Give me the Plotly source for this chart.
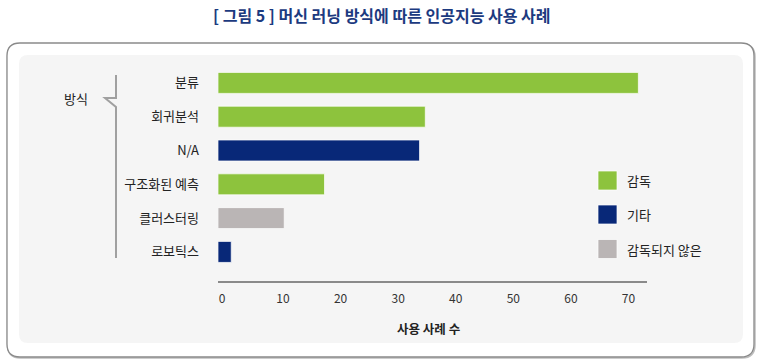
import plotly.graph_objects as go

# ---- data ----
categories = ["분류", "회귀분석", "N/A", "구조화된 예측", "클러스터링", "로보틱스"]
values = [73, 36, 35, 18.5, 11.5, 2.3]
groups = ["감독", "감독", "기타", "감독", "감독되지 않은", "기타"]
group_names = ["감독", "기타", "감독되지 않은"]
group_colors = {"감독": "#8dc33d", "기타": "#082878", "감독되지 않은": "#bab5b5"}
x_ticks = [0, 10, 20, 30, 40, 50, 60, 70]
title_text = "[ 그림 5 ] 머신 러닝 방식에 따른 인공지능 사용 사례"
x_title = "사용 사례 수"
bracket_label = "방식"

W, H = 763, 361
ML, MR, MT, MB = 218, 116, 66, 80
PW, PH = W - ML - MR, H - MT - MB
FONT = "Noto Sans CJK KR, Noto Sans, sans-serif"


def px(x):
    return (x - ML) / PW


def py(y):
    return 1 - (y - MT) / PH


def rounded_rect(x0, y0, x1, y1, r):
    pts = [
        f"M {px(x0 + r)} {py(y0)}",
        f"L {px(x1 - r)} {py(y0)}",
        f"Q {px(x1)} {py(y0)} {px(x1)} {py(y0 + r)}",
        f"L {px(x1)} {py(y1 - r)}",
        f"Q {px(x1)} {py(y1)} {px(x1 - r)} {py(y1)}",
        f"L {px(x0 + r)} {py(y1)}",
        f"Q {px(x0)} {py(y1)} {px(x0)} {py(y1 - r)}",
        f"L {px(x0)} {py(y0 + r)}",
        f"Q {px(x0)} {py(y0)} {px(x0 + r)} {py(y0)}",
        "Z",
    ]
    return " ".join(pts)


fig = go.Figure()
for g in group_names:
    ys = [c for c, gg in zip(categories, groups) if gg == g]
    xs = [v for v, gg in zip(values, groups) if gg == g]
    fig.add_trace(go.Bar(
        x=xs, y=ys, orientation="h", name=g, width=0.62,
        marker=dict(color=group_colors[g], line=dict(color="rgba(255,255,255,0.7)", width=1)),
        showlegend=False, hoverinfo="x+y",
    ))

shapes = []
# outer box shadow + border
shapes.append(dict(type="path", xref="paper", yref="paper", layer="below",
                   path=rounded_rect(7.5, 44, 755, 358, 13),
                   line=dict(color="#bdbdbd", width=1.5), fillcolor="rgba(0,0,0,0)"))
shapes.append(dict(type="path", xref="paper", yref="paper", layer="below",
                   path=rounded_rect(7, 43, 754, 357, 13),
                   line=dict(color="#8a8a8a", width=1.3), fillcolor="#ffffff"))
# inner light panel
shapes.append(dict(type="path", xref="paper", yref="paper", layer="below",
                   path=rounded_rect(19, 55, 743, 343, 9),
                   line=dict(width=0), fillcolor="#f5f5f5"))
# bracket
bracket = (f"M {px(116)} {py(75)} L {px(116)} {py(98)} L {px(105)} {py(98)} "
           f"L {px(116)} {py(107)} L {px(116)} {py(258)}")
shapes.append(dict(type="path", xref="paper", yref="paper", path=bracket,
                   line=dict(color="#a0a0a0", width=2)))

annotations = [
    dict(text=f"<b>{title_text}</b>", x=px(382), y=py(15), xref="paper", yref="paper",
         showarrow=False, font=dict(family=FONT, size=16, color="#1c3a80"),
         xanchor="center", yanchor="middle"),
    dict(text=f"<b>{x_title}</b>", x=px(428), y=py(328), xref="paper", yref="paper",
         showarrow=False, font=dict(family=FONT, size=12.5, color="#222222"),
         xanchor="center", yanchor="middle"),
    dict(text=bracket_label, x=px(76), y=py(98), xref="paper", yref="paper",
         showarrow=False, font=dict(family=FONT, size=13, color="#222222"),
         xanchor="center", yanchor="middle"),
]

# custom legend
leg_y = [180.5, 214.5, 249]
for g, yc in zip(group_names, leg_y):
    shapes.append(dict(type="rect", xref="paper", yref="paper",
                       x0=px(598), x1=px(617), y0=py(yc - 9.5), y1=py(yc + 9.5),
                       fillcolor=group_colors[g], line=dict(color="rgba(255,255,255,0.7)", width=1)))
    annotations.append(dict(text=g, x=px(625), y=py(yc), xref="paper", yref="paper",
                            showarrow=False, font=dict(family=FONT, size=13, color="#222222"),
                            xanchor="left", yanchor="middle"))

fig.update_layout(
    width=W, height=H,
    margin=dict(l=ML, r=MR, t=MT, b=MB),
    paper_bgcolor="#ffffff", plot_bgcolor="rgba(0,0,0,0)",
    barmode="overlay",
    font=dict(family=FONT, size=12, color="#222222"),
    shapes=shapes, annotations=annotations,
    xaxis=dict(range=[0, 74.5], tickvals=x_ticks, ticktext=[str(t) for t in x_ticks],
               showgrid=False, zeroline=False, showline=True, linecolor="#8a8a8a", linewidth=1.5,
               ticks="", ticklabelposition="outside right", ticklabelstandoff=6,
               tickfont=dict(family=FONT, size=12, color="#333333"), fixedrange=True),
    yaxis=dict(type="category", categoryorder="array", categoryarray=categories,
               range=[5.86, -0.5], showgrid=False, zeroline=False, showline=False,
               ticks="", ticklabelstandoff=18,
               tickfont=dict(family=FONT, size=13, color="#222222"), fixedrange=True),
)

fig.write_html("out.html", config={"displayModeBar": False},
               post_script="document.body.style.margin='0';")
